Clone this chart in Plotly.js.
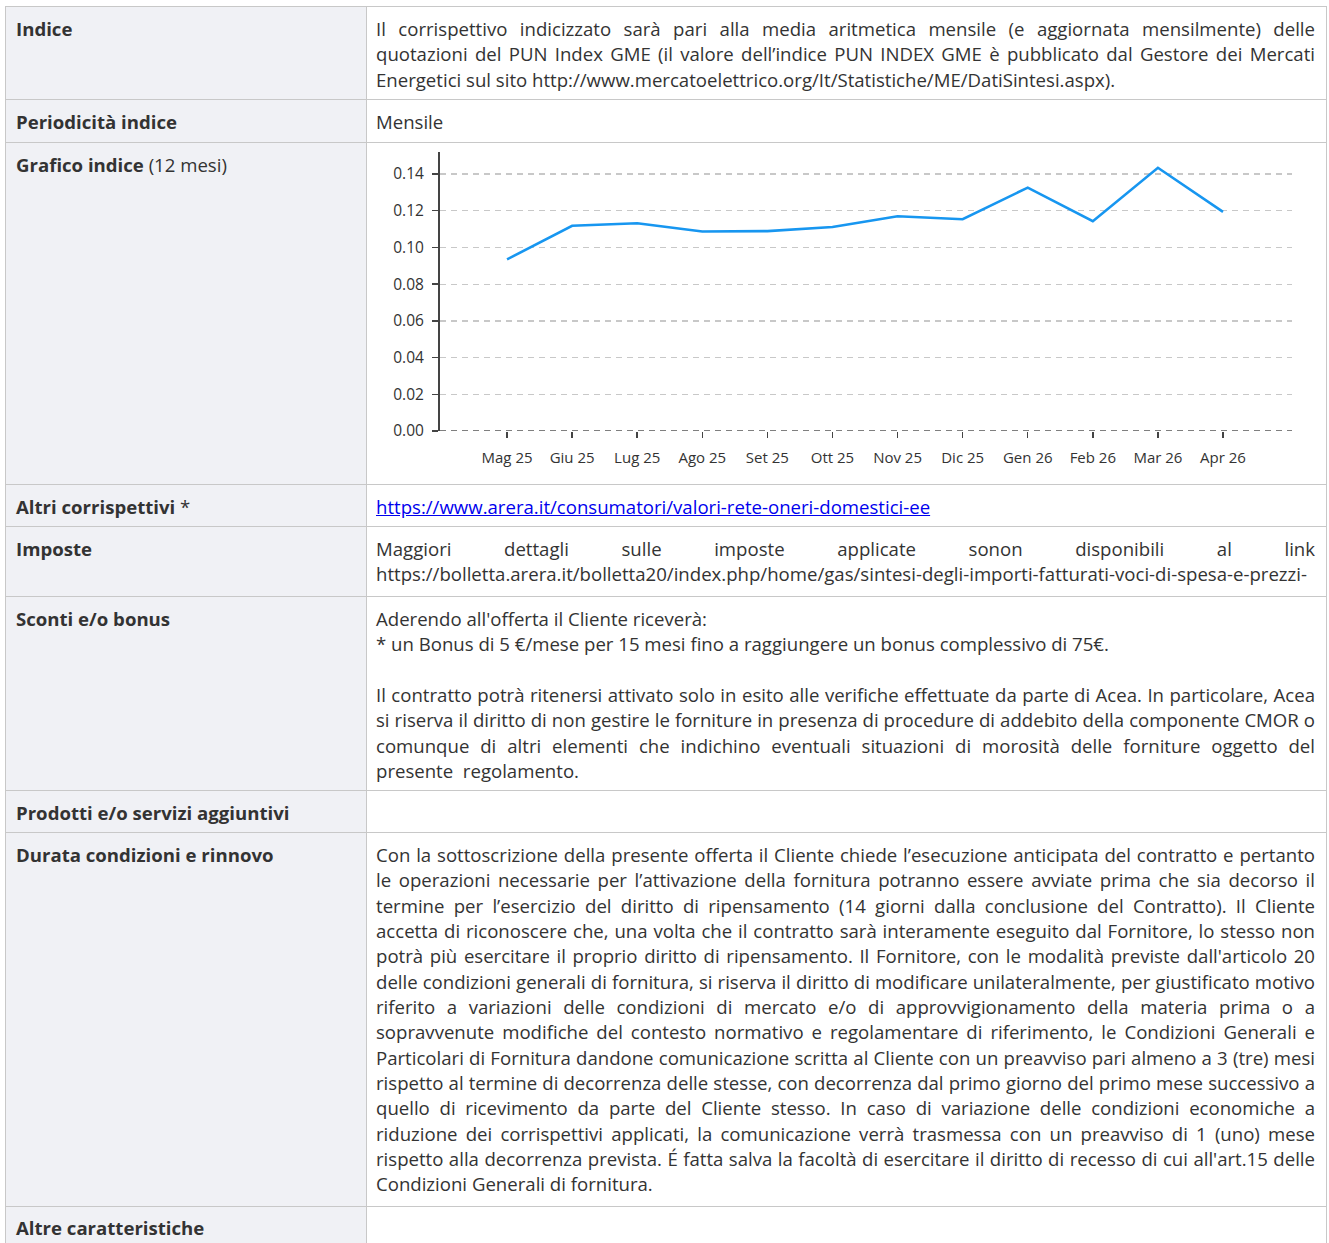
<!DOCTYPE html>
<html>
<head>
<meta charset="utf-8">
<script src="https://cdn.plot.ly/plotly-3.0.1.min.js"></script>
<style>
  html, body { margin: 0; padding: 0; background: #fff; }
  body { font-family: "Open Sans", sans-serif; color: #333; font-size: 18.6px; }
  table { position: absolute; left: 5px; top: 6px; border-collapse: collapse; table-layout: fixed; width: 1322px; }
  td { border: 1px solid #c8c8c8; vertical-align: top; padding: 9px 11px 6px 10px; line-height: 25.35px; }
  td.k { width: 339px; background: #f0f1f5; font-weight: 700; }
  td.k span { font-weight: 400; }
  td.v { background: #fff; padding-left: 9px; }
  .j { text-align: justify; text-align-last: justify; }
  a { color: #0000ee; }
  #chart { width: 938px; height: 324px; }
</style>
</head>
<body>
<table>
  <tr style="height:93px"><td class="k">Indice</td><td class="v">
    <div class="j">Il corrispettivo indicizzato sarà pari alla media aritmetica mensile (e aggiornata mensilmente) delle</div>
    <div class="j">quotazioni del PUN Index GME (il valore dell’indice PUN INDEX GME è pubblicato dal Gestore dei Mercati</div>
    <div>Energetici sul sito http://www.mercatoelettrico.org/It/Statistiche/ME/DatiSintesi.aspx).</div>
  </td></tr>
  <tr style="height:43px"><td class="k">Periodicità indice</td><td class="v">Mensile</td></tr>
  <tr style="height:342px"><td class="k">Grafico indice <span>(12 mesi)</span></td><td class="v" style="padding-top:8px;padding-bottom:8px"><div id="chart"></div></td></tr>
  <tr style="height:42px"><td class="k">Altri corrispettivi <span>*</span></td><td class="v"><a href="#">https://www.arera.it/consumatori/valori-rete-oneri-domestici-ee</a></td></tr>
  <tr style="height:70px"><td class="k">Imposte</td><td class="v">
    <div class="j">Maggiori dettagli sulle imposte applicate sonon disponibili al link</div>
    <div style="white-space:nowrap;overflow:hidden">https://bolletta.arera.it/bolletta20/index.php/home/gas/sintesi-degli-importi-fatturati-voci-di-spesa-e-prezzi-</div>
  </td></tr>
  <tr style="height:194px"><td class="k">Sconti e/o bonus</td><td class="v">
    <div>Aderendo all'offerta il Cliente riceverà:</div>
    <div>* un Bonus di 5 €/mese per 15 mesi fino a raggiungere un bonus complessivo di 75€.</div>
    <div>&nbsp;</div>
    <div class="j">Il contratto potrà ritenersi attivato solo in esito alle verifiche effettuate da parte di Acea. In particolare, Acea</div>
    <div class="j">si riserva il diritto di non gestire le forniture in presenza di procedure di addebito della componente CMOR o</div>
    <div class="j">comunque di altri elementi che indichino eventuali situazioni di morosità delle forniture oggetto del</div>
    <div>presente&nbsp; regolamento.</div>
  </td></tr>
  <tr style="height:42px"><td class="k">Prodotti e/o servizi aggiuntivi</td><td class="v"></td></tr>
  <tr style="height:374px"><td class="k">Durata condizioni e rinnovo</td><td class="v">
    <div class="j">Con la sottoscrizione della presente offerta il Cliente chiede l’esecuzione anticipata del contratto e pertanto</div>
    <div class="j">le operazioni necessarie per l’attivazione della fornitura potranno essere avviate prima che sia decorso il</div>
    <div class="j">termine per l’esercizio del diritto di ripensamento (14 giorni dalla conclusione del Contratto). Il Cliente</div>
    <div class="j">accetta di riconoscere che, una volta che il contratto sarà interamente eseguito dal Fornitore, lo stesso non</div>
    <div class="j">potrà più esercitare il proprio diritto di ripensamento. Il Fornitore, con le modalità previste dall'articolo 20</div>
    <div class="j">delle condizioni generali di fornitura, si riserva il diritto di modificare unilateralmente, per giustificato motivo</div>
    <div class="j">riferito a variazioni delle condizioni di mercato e/o di approvvigionamento della materia prima o a</div>
    <div class="j">sopravvenute modifiche del contesto normativo e regolamentare di riferimento, le Condizioni Generali e</div>
    <div class="j">Particolari di Fornitura dandone comunicazione scritta al Cliente con un preavviso pari almeno a 3 (tre) mesi</div>
    <div class="j">rispetto al termine di decorrenza delle stesse, con decorrenza dal primo giorno del primo mese successivo a</div>
    <div class="j">quello di ricevimento da parte del Cliente stesso. In caso di variazione delle condizioni economiche a</div>
    <div class="j">riduzione dei corrispettivi applicati, la comunicazione verrà trasmessa con un preavviso di 1 (uno) mese</div>
    <div class="j">rispetto alla decorrenza prevista. É fatta salva la facoltà di esercitare il diritto di recesso di cui all'art.15 delle</div>
    <div>Condizioni Generali di fornitura.</div>
  </td></tr>
  <tr style="height:60px"><td class="k" style="padding-top:8px">Altre caratteristiche</td><td class="v"></td></tr>
</table>
<script>
const months = ["Mag 25","Giu 25","Lug 25","Ago 25","Set 25","Ott 25","Nov 25","Dic 25","Gen 26","Feb 26","Mar 26","Apr 26"];
const punValues = [0.0935, 0.1118, 0.1132, 0.1087, 0.1089, 0.1111, 0.1170, 0.1154, 0.1326, 0.1143, 0.1434, 0.1194];
const yTicks = [0, 0.02, 0.04, 0.06, 0.08, 0.10, 0.12, 0.14];

Plotly.newPlot('chart', [{
  type: 'scatter', mode: 'lines', x: months, y: punValues,
  line: { color: '#1796f0', width: 2.6 }, hoverinfo: 'skip'
}], {
  width: 938, height: 324,
  margin: { l: 64, r: 22, t: 1, b: 44 },
  paper_bgcolor: '#fff', plot_bgcolor: '#fff',
  showlegend: false,
  font: { family: 'Open Sans, sans-serif', size: 15, color: '#333' },
  xaxis: {
    type: 'category', range: [-1.03, 12.06], fixedrange: true,
    showgrid: false, zeroline: false, showline: false,
    ticks: 'outside', ticklen: 6, tickwidth: 1.5, tickcolor: '#444',
    ticklabelstandoff: 7, tickfont: { size: 15 }
  },
  yaxis: {
    range: [0, 0.152], tickvals: yTicks, tickformat: '.2f', fixedrange: true,
    showgrid: true, gridcolor: '#c8c8c8', griddash: '6px,5px', gridwidth: 1.3,
    zeroline: false, showline: true, linecolor: '#444', linewidth: 2,
    ticks: 'outside', ticklen: 6, tickwidth: 1.5, tickcolor: '#444',
    ticklabelstandoff: 5, tickfont: { size: 15.5 }
  },
  shapes: [{
    type: 'line', xref: 'paper', yref: 'y', x0: 0, x1: 1, y0: 0, y1: 0,
    line: { color: '#555', width: 1.5, dash: '6px,5px' }, layer: 'above'
  }]
}, { staticPlot: true, displayModeBar: false });
</script>
</body>
</html>
